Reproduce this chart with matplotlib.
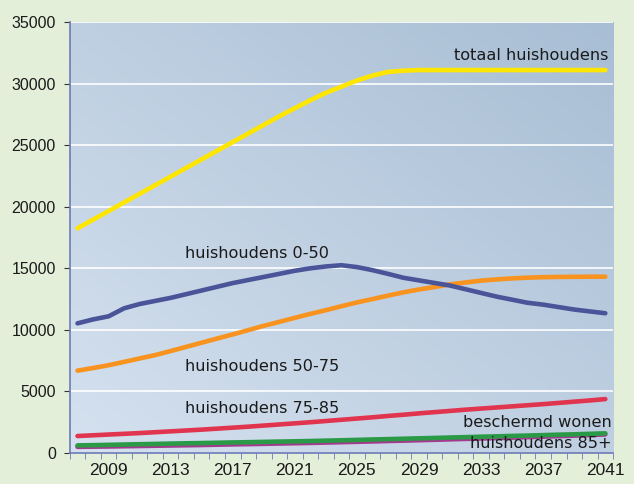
import numpy as np
import matplotlib.pyplot as plt
from matplotlib.colors import LinearSegmentedColormap

years = list(range(2007, 2042))

totaal = [18250, 18950, 19650, 20350, 21050, 21750, 22450, 23150, 23850, 24550,
          25250, 25950, 26650, 27350, 28000, 28650, 29250, 29750, 30250, 30650,
          30950, 31050, 31100, 31100, 31100, 31100, 31100, 31100, 31100, 31100,
          31100, 31100, 31100, 31100, 31100]
hh_0_50 = [10530, 10850, 11100, 11750, 12100, 12350, 12600, 12900, 13200, 13500,
           13800, 14050, 14300, 14550, 14800, 15000, 15150, 15250, 15100, 14850,
           14550, 14230, 14020, 13810, 13600, 13300, 13000, 12700, 12450, 12200,
           12050, 11850, 11650, 11500, 11350]
hh_50_75 = [6690, 6900, 7130, 7400, 7680, 7950, 8280, 8620, 8960, 9300,
            9630, 9980, 10330, 10650, 10980, 11300, 11600, 11920, 12230, 12500,
            12780, 13050, 13280, 13480, 13700, 13850, 14000, 14100, 14180, 14240,
            14280, 14300, 14310, 14320, 14320]
hh_75_85 = [1380, 1440, 1500, 1560, 1620, 1690, 1760, 1830, 1900, 1980,
            2060, 2140, 2230, 2320, 2410, 2500, 2600, 2700, 2800, 2900,
            3010, 3110, 3220, 3320, 3420, 3520, 3610, 3700, 3790, 3880,
            3970, 4070, 4170, 4270, 4380]
beschermd = [620, 640, 665, 690, 715, 740, 765, 790, 810, 835,
             860, 880, 905, 930, 950, 975, 1005, 1035, 1065, 1100,
             1130, 1160, 1195, 1225, 1260, 1290, 1325, 1355, 1390, 1420,
             1455, 1490, 1520, 1560, 1600]
hh_85 = [500, 515, 530, 550, 570, 590, 610, 630, 650, 675,
         700, 720, 745, 770, 795, 820, 850, 880, 910, 940,
         975, 1005, 1040, 1075, 1110, 1145, 1180, 1215, 1250, 1290,
         1330, 1370, 1410, 1460, 1510]

fig = plt.figure(figsize=(6.34, 4.84), dpi=100, facecolor='#e4efda')
ax = fig.add_axes([0.110, 0.064, 0.857, 0.8905])

# diagonal gradient background
gx, gy = np.meshgrid(np.linspace(0, 1, 200), np.linspace(0, 1, 200))
grad = (gx + gy) / 2
cmap = LinearSegmentedColormap.from_list('bg', ['#d5e1ef', '#a8bed4'])
ax.imshow(grad, cmap=cmap, origin='lower', extent=[0, 1, 0, 1],
          transform=ax.transAxes, aspect='auto', zorder=0)

for v in range(5000, 35001, 5000):
    ax.axhline(v, color='white', lw=1.2, zorder=1)

lw = 3.3
ax.plot(years, hh_85, color='#a33a8e', lw=lw, zorder=3, solid_capstyle='round')
ax.plot(years, beschermd, color='#2a9a47', lw=lw, zorder=4, solid_capstyle='round')
ax.plot(years, hh_75_85, color='#e0344f', lw=lw, zorder=4, solid_capstyle='round')
ax.plot(years, hh_50_75, color='#f7931e', lw=lw, zorder=4, solid_capstyle='round')
ax.plot(years, hh_0_50, color='#4a5599', lw=lw, zorder=4, solid_capstyle='round')
ax.plot(years, totaal, color='#ffe600', lw=lw, zorder=4, solid_capstyle='round')

fs = 11.6
tc = '#1a1a1a'
ax.text(2041.2, 32300, 'totaal huishoudens', ha='right', va='center', fontsize=fs, color=tc, zorder=5)
ax.text(2013.9, 16240, 'huishoudens 0-50', ha='left', va='center', fontsize=fs, color=tc, zorder=5)
ax.text(2013.9, 7060, 'huishoudens 50-75', ha='left', va='center', fontsize=fs, color=tc, zorder=5)
ax.text(2013.9, 3650, 'huishoudens 75-85', ha='left', va='center', fontsize=fs, color=tc, zorder=5)
ax.text(2041.4, 2460, 'beschermd wonen', ha='right', va='center', fontsize=fs, color=tc, zorder=5)
ax.text(2041.4, 810, 'huishoudens 85+', ha='right', va='center', fontsize=fs, color=tc, zorder=5)

ax.set_xlim(2006.5, 2041.5)
ax.set_ylim(0, 35000)
ax.set_yticks(range(0, 35001, 5000))
ax.set_xticks(range(2009, 2042, 4))
ax.set_xticks(np.arange(2006.5, 2041.6, 1), minor=True)
ax.tick_params(axis='x', which='major', length=0, pad=7)
ax.tick_params(axis='x', which='minor', length=4, color='#6c7bb8', direction='out')
ax.tick_params(axis='y', length=4, color='#333333', pad=6)

for lab in ax.get_xticklabels():
    lab.set_family(['Liberation Sans', 'DejaVu Sans'])
    lab.set_fontsize(12.5)
    lab.set_color(tc)
for lab in ax.get_yticklabels():
    lab.set_family(['Liberation Sans', 'DejaVu Sans'])
    lab.set_fontsize(11.5)
    lab.set_color(tc)

for s in ['top', 'right']:
    ax.spines[s].set_visible(False)
for s in ['left', 'bottom']:
    ax.spines[s].set_color('#6c7bb8')
    ax.spines[s].set_linewidth(1.2)

fig.savefig('out.png', dpi=100, facecolor=fig.get_facecolor())
